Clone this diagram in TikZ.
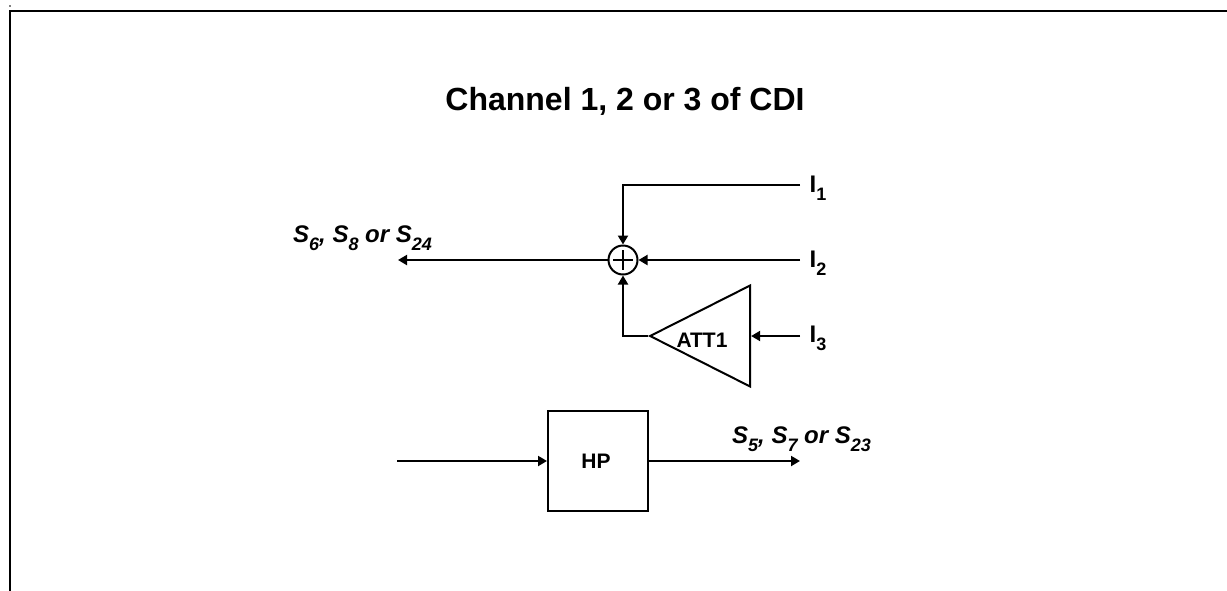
\documentclass[tikz,border=0pt]{standalone}
\usepackage{fontspec}
\setmainfont{Liberation Sans}
\usetikzlibrary{shapes.geometric,arrows.meta}
\newcommand{\subs}[1]{\raisebox{-0.37em}{\fontsize{18}{18}\selectfont #1}}
\tikzset{
  lbl/.style={inner sep=0pt,anchor=base,font=\fontsize{21}{23}\selectfont\bfseries},
  inp/.style={inner sep=0pt,anchor=base west,font=\fontsize{24}{26}\selectfont\bfseries},
  sig/.style={inner sep=0pt,anchor=base west,font=\fontsize{24}{26}\selectfont\bfseries\itshape},
  wire/.style={line width=2pt,draw=black},
  arr/.style={wire,-{Triangle[length=9pt,width=10pt]}},
  frameline/.style={line width=2pt,draw=black}
}
\begin{document}
\begin{tikzpicture}[x=1pt,y=-1pt]
\useasboundingbox (0,0) rectangle (1227,590);
\coordinate (ftop) at (1227,11);
\coordinate (fcorner) at (10,11);
\coordinate (fbot) at (10,590);
\draw[frameline,line cap=rect] (ftop) -- (fcorner) -- (fbot);
\fill (10,6) circle (0.8);
\node[inner sep=0pt,anchor=base,font=\fontsize{32}{34}\selectfont\bfseries] (title) at (625,110.5) {Channel 1, 2 or 3 of CDI};
\node[circle,draw,line width=2pt,minimum size=29pt,inner sep=0pt] (sum) at (623,260) {};
\draw[line width=1.5pt] (sum.center) +(-10,0) -- +(10,0) +(0,-10) -- +(0,10);
\node[isosceles triangle,isosceles triangle stretches,shape border rotate=180,draw,line width=2pt,minimum width=101pt,minimum height=100pt,inner sep=0pt,anchor=apex] (att) at (647.5,336) {};
\node[lbl] (attl) at (702,347) {ATT1};
\node[draw,line width=2pt,minimum size=100pt,inner sep=0pt] (hp) at (598,461) {};
\node[lbl] (hpl) at (596,468) {HP};
\coordinate (i1e) at (800,185);
\coordinate (i2e) at (800,260);
\coordinate (i3e) at (800,336);
\coordinate (oute) at (398,260);
\coordinate (ine) at (397,461);
\coordinate (hpe) at (800,461);
\coordinate (bend1) at (623,185);
\coordinate (bend3) at (623,336);
\node[inp] (i1) at (809.5,192) {I\subs{1}};
\node[inp] (i2) at (809.5,267) {I\subs{2}};
\node[inp] (i3) at (809.5,342) {I\subs{3}};
\node[sig] (s6) at (293,242) {S\subs{6}, S\subs{8} or S\subs{24}};
\node[sig] (s5) at (732,443) {S\subs{5}, S\subs{7} or S\subs{23}};
\draw[arr] (i1e) -- (bend1) -- (sum.north);
\draw[arr] (i2e) -- (sum.east);
\draw[arr] (att.apex) -- (bend3) -- (sum.south);
\draw[arr] (i3e) -- (att.east);
\draw[arr] (sum.west) -- (oute);
\draw[arr] (ine) -- (hp.west);
\draw[arr] (hp.east) -- (hpe);
\end{tikzpicture}
\end{document}
